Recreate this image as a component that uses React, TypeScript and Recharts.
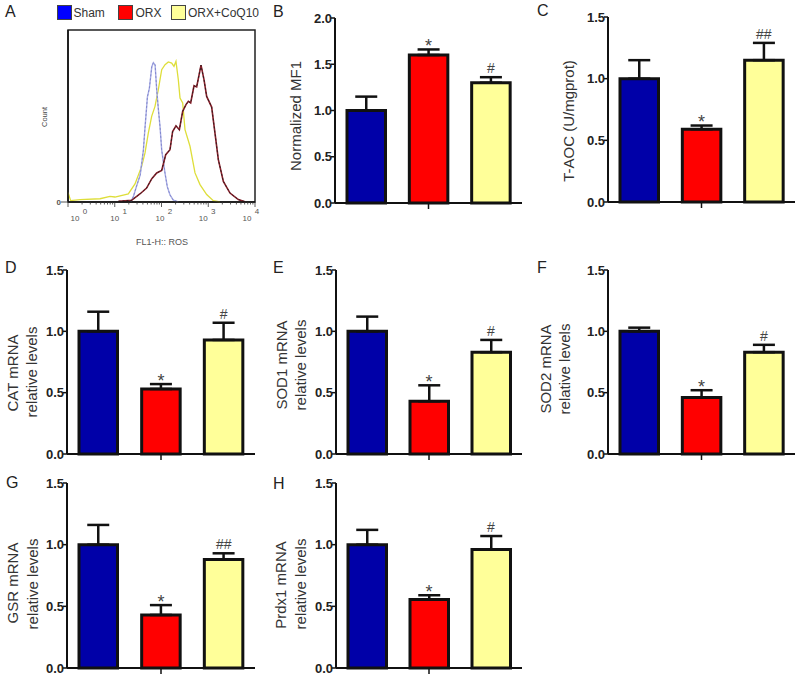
import {
  Bar,
  Cell,
  ComposedChart,
  ErrorBar,
  LabelList,
  Line,
  LineChart,
  ReferenceArea,
  XAxis,
  YAxis,
} from "recharts";

const FONT = '"Liberation Sans", Arial, sans-serif';

const groups = ["Sham", "ORX", "ORX+CoQ10"];
const groupFills = ["#0000a8", "#ff0000", "#ffff99"];
const legendSwatches = ["#0000ff", "#ff0000", "#ffff99"];

const mfiValues = [1.0, 1.6, 1.3];
const mfiErrors = [0.15, 0.06, 0.06];
const mfiMarks = ["", "*", "#"];

const taocValues = [1.0, 0.59, 1.15];
const taocErrors = [0.15, 0.03, 0.14];
const taocMarks = ["", "*", "##"];

const catValues = [1.0, 0.53, 0.93];
const catErrors = [0.16, 0.04, 0.14];
const catMarks = ["", "*", "#"];

const sod1Values = [1.0, 0.43, 0.83];
const sod1Errors = [0.12, 0.13, 0.1];
const sod1Marks = ["", "*", "#"];

const sod2Values = [1.0, 0.46, 0.83];
const sod2Errors = [0.03, 0.06, 0.06];
const sod2Marks = ["", "*", "#"];

const gsrValues = [1.0, 0.43, 0.88];
const gsrErrors = [0.16, 0.08, 0.05];
const gsrMarks = ["", "*", "##"];

const prdxValues = [1.0, 0.555, 0.96];
const prdxErrors = [0.12, 0.035, 0.11];
const prdxMarks = ["", "*", "#"];

const ticksTo2 = [0, 0.5, 1, 1.5, 2];
const ticksTo15 = [0, 0.5, 1, 1.5];

// flow histogram, fluorescence on x and % of frame height on y
const shamX = [22, 25, 29, 35, 41, 44, 50, 55, 62, 67, 73, 79, 86, 93, 101, 119, 133, 152, 179, 229];
const shamY = [0, 3.1, 8.9, 15.7, 30.2, 41.9, 61.2, 66.1, 78.7, 81, 79.7, 65.1, 53.5, 43.8, 30.2, 16.7, 8.9, 4.1, 1.1, 0];
const orxX = [12, 23, 35, 48, 62, 79, 101, 123, 152, 173, 204, 241, 284, 334, 375, 421, 496, 565, 700, 811, 925, 1183, 1393, 1644, 2104, 2919, 4395, 6105];
const orxY = [0.4, 1, 4.8, 8.1, 13.6, 16.9, 18.4, 27.5, 30.4, 41, 44.3, 42, 52.7, 56.6, 58.5, 57.6, 67.6, 66.9, 79.5, 71.1, 61.4, 55.2, 40.1, 24.6, 12, 5.2, 1.4, 0.2];
const coqX = [1, 1.14, 1.81, 4.84, 7.9, 10.1, 19.5, 27.1, 37.6, 44.4, 52.2, 61.6, 72.6, 85.5, 101, 119, 140, 165, 185, 204, 229, 249, 284, 318, 407, 521, 666, 925, 1284, 1784];
const coqY = [5.6, 0.8, 1.4, 1.9, 3.3, 2.9, 4.7, 10.5, 20.7, 28.5, 40.1, 49.8, 55.6, 65.3, 76.9, 79.8, 81.4, 80.8, 78.9, 81.8, 71.1, 60.5, 57.6, 42.1, 32.4, 16.9, 10.1, 4.3, 0.8, 0];

const flowTicks = [
  1, 2, 3, 4, 5, 6, 7, 8, 9,
  10, 20, 30, 40, 50, 60, 70, 80, 90,
  100, 200, 300, 400, 500, 600, 700, 800, 900,
  1000, 2000, 3000, 4000, 5000, 6000, 7000, 8000, 9000,
  10000,
];
const decadeLabelShift: Record<number, number> = { 1: 7, 10: 0, 100: -1.5, 1000: -5, 10000: -8 };

function toPoints(xs: number[], ys: number[]) {
  return xs.map((x, i) => ({ x, y: ys[i] }));
}

function toRows(values: number[], errors: number[], marks: string[]) {
  return groups.map((group, i) => ({
    group,
    value: values[i],
    range: [0, errors[i]],
    top: values[i] + errors[i],
    mark: marks[i],
  }));
}

function MarkLabel(props: any) {
  const { x, y, value } = props;
  if (!value) return null;
  const star = value === "*";
  return (
    <text x={x} y={y + (star ? 2.5 : -4)} textAnchor="middle" fontFamily={FONT} fontSize={star ? 18 : 14} fill="#444">
      {value}
    </text>
  );
}

type PanelProps = {
  left: number;
  top: number;
  bottom: number;
  right: number;
  max: number;
  ticks: number[];
  values: number[];
  errors: number[];
  marks: string[];
};

function BarPanel({ left, top, bottom, right, max, ticks, values, errors, marks }: PanelProps) {
  const axisWidth = 40;
  const pad = 10;
  const foot = 12;
  const rows = toRows(values, errors, marks);
  return (
    <div style={{ position: "absolute", left: left - axisWidth, top: top - pad }}>
      <ComposedChart
        width={right - left + axisWidth}
        height={bottom - top + pad + foot}
        data={rows}
        margin={{ top: pad, right: 0, bottom: 0, left: 0 }}
        barCategoryGap={0}
      >
        <XAxis
          dataKey="group"
          height={foot}
          ticks={[groups[1]]}
          tickFormatter={() => ""}
          tickSize={6}
          axisLine={{ stroke: "#111", strokeWidth: 2 }}
          tickLine={{ stroke: "#111", strokeWidth: 1.5 }}
        />
        <YAxis
          width={axisWidth}
          domain={[0, max]}
          ticks={ticks}
          interval={0}
          tickSize={4}
          tickMargin={-1}
          tickFormatter={(v: number) => v.toFixed(1)}
          tick={{ fontFamily: FONT, fontSize: 13, fontWeight: 700, fill: "#222" }}
          axisLine={{ stroke: "#111", strokeWidth: 2 }}
          tickLine={{ stroke: "#111", strokeWidth: 1.5 }}
        />
        <Bar dataKey="value" barSize={38.5} stroke="#111" strokeWidth={3} isAnimationActive={false}>
          {rows.map((r, i) => (
            <Cell key={r.group} fill={groupFills[i]} />
          ))}
          <ErrorBar dataKey="range" direction="y" width={11} stroke="#111" strokeWidth={2.5} isAnimationActive={false} />
        </Bar>
        <Line dataKey="top" stroke="none" dot={false} activeDot={false} legendType="none" isAnimationActive={false}>
          <LabelList dataKey="mark" content={<MarkLabel />} />
        </Line>
      </ComposedChart>
    </div>
  );
}

function FlowTick({ x, y, payload }: any) {
  const v = payload.value;
  const isDecade = v in decadeLabelShift;
  const shift = decadeLabelShift[v] ?? 0;
  const exp = Math.round(Math.log10(v));
  return (
    <g>
      <line x1={x} x2={x} y1={y} y2={y + (isDecade ? 5 : 2.5)} stroke="#333" strokeWidth={0.8} />
      {isDecade && (
        <text fontFamily={FONT} fontSize={8} fill="#555" textAnchor="middle">
          <tspan x={x + shift} y={y + 19}>10</tspan>
          <tspan dx={1} y={y + 12}>{exp}</tspan>
        </text>
      )}
    </g>
  );
}

function FlowPanel() {
  return (
    <div style={{ position: "absolute", left: 0, top: 20 }}>
      <LineChart width={262} height={212} margin={{ top: 10, right: 7, bottom: 0, left: 0 }}>
        <ReferenceArea x1={1} x2={10000} y1={0} y2={100} fill="none" stroke="#222" strokeWidth={1.5} ifOverflow="visible" />
        <XAxis
          dataKey="x"
          type="number"
          scale="log"
          domain={[1, 10000]}
          ticks={flowTicks}
          interval={0}
          height={30}
          tickSize={0}
          tickMargin={0}
          allowDataOverflow
          tick={<FlowTick />}
          tickLine={false}
          axisLine={{ stroke: "#111", strokeWidth: 1.5 }}
        />
        <YAxis
          width={68}
          domain={[0, 100]}
          ticks={[0]}
          tickSize={7}
          tickMargin={0}
          tick={{ fontFamily: FONT, fontSize: 8, fontWeight: 700, fill: "#555" }}
          axisLine={{ stroke: "#111", strokeWidth: 1.5 }}
          tickLine={{ stroke: "#555", strokeWidth: 1 }}
        />
        <Line data={toPoints(coqX, coqY)} dataKey="y" stroke="#dede3a" strokeWidth={1.3} dot={false} isAnimationActive={false} />
        <Line data={toPoints(shamX, shamY)} dataKey="y" stroke="#a9ade4" strokeWidth={1.4} dot={false} isAnimationActive={false} />
        <Line data={toPoints(shamX, shamY)} dataKey="y" stroke="#6f75c4" strokeWidth={0.7} strokeDasharray="2 2" dot={false} isAnimationActive={false} />
        <Line data={toPoints(orxX, orxY)} dataKey="y" stroke="#8a1f2a" strokeWidth={1.6} dot={false} isAnimationActive={false} />
        <Line data={toPoints(orxX, orxY)} dataKey="y" stroke="#1a1a1a" strokeWidth={0.8} strokeDasharray="2 2" dot={false} isAnimationActive={false} />
      </LineChart>
    </div>
  );
}

const legendLefts = [57, 118, 171];
const legendTextLefts = [73.5, 135.5, 188];

function FlowLegend() {
  return (
    <>
      {groups.map((g, i) => (
        <div key={g}>
          <div
            style={{
              position: "absolute",
              left: legendLefts[i],
              top: 5,
              width: 13,
              height: 13,
              background: legendSwatches[i],
              border: "1px solid #444",
            }}
          />
          <div
            style={{
              position: "absolute",
              left: legendTextLefts[i],
              top: 5,
              fontFamily: FONT,
              fontSize: 12,
              lineHeight: "16px",
              color: "#333",
            }}
          >
            {g}
          </div>
        </div>
      ))}
    </>
  );
}

function Notes() {
  const letters: [string, number, number][] = [
    ["A", 5, 17], ["B", 273, 17], ["C", 537, 16],
    ["D", 5, 273], ["E", 273, 273], ["F", 537, 273],
    ["G", 6, 488], ["H", 273, 489],
  ];
  const titles: [string, number, number][] = [
    ["Normalized MF1", 295, 116],
    ["T-AOC (U/mgprot)", 568, 121],
    ["CAT mRNA", 12, 373],
    ["relative levels", 31, 372],
    ["SOD1 mRNA", 281, 365],
    ["relative levels", 300, 365],
    ["SOD2 mRNA", 545, 369],
    ["relative levels", 564, 369],
    ["GSR mRNA", 12, 583],
    ["relative levels", 32, 584],
    ["Prdx1 mRNA", 280, 585],
    ["relative levels", 300, 584],
  ];
  return (
    <svg width={800} height={680} style={{ position: "absolute", left: 0, top: 0, pointerEvents: "none" }}>
      {letters.map(([t, x, y]) => (
        <text key={t} x={x} y={y} fontFamily={FONT} fontSize={16} fill="#222">{t}</text>
      ))}
      {titles.map(([t, x, y]) => (
        <text
          key={t + x}
          transform={`translate(${x} ${y}) rotate(-90)`}
          textAnchor="middle"
          dominantBaseline="central"
          fontFamily={FONT}
          fontSize={15}
          fill="#333"
        >
          {t}
        </text>
      ))}
      <text transform="translate(44 117) rotate(-90)" textAnchor="middle" dominantBaseline="central" fontFamily={FONT} fontSize={7.5} fill="#444">Count</text>
      <text x={162} y={245} textAnchor="middle" fontFamily={FONT} fontSize={9} fill="#555">FL1-H:: ROS</text>
    </svg>
  );
}

export default function App() {
  return (
    <div style={{ position: "absolute", left: 0, top: 0, width: 800, height: 680, background: "#fff" }}>
      <FlowLegend />
      <FlowPanel />
      <BarPanel left={335} top={18} bottom={203} right={522} max={2} ticks={ticksTo2} values={mfiValues} errors={mfiErrors} marks={mfiMarks} />
      <BarPanel left={608} top={17} bottom={202} right={795} max={1.5} ticks={ticksTo15} values={taocValues} errors={taocErrors} marks={taocMarks} />
      <BarPanel left={67} top={270} bottom={454} right={255} max={1.5} ticks={ticksTo15} values={catValues} errors={catErrors} marks={catMarks} />
      <BarPanel left={336} top={270} bottom={454} right={522} max={1.5} ticks={ticksTo15} values={sod1Values} errors={sod1Errors} marks={sod1Marks} />
      <BarPanel left={608} top={270} bottom={454} right={795} max={1.5} ticks={ticksTo15} values={sod2Values} errors={sod2Errors} marks={sod2Marks} />
      <BarPanel left={67} top={483} bottom={668} right={255} max={1.5} ticks={ticksTo15} values={gsrValues} errors={gsrErrors} marks={gsrMarks} />
      <BarPanel left={336} top={483} bottom={668} right={522} max={1.5} ticks={ticksTo15} values={prdxValues} errors={prdxErrors} marks={prdxMarks} />
      <Notes />
    </div>
  );
}
